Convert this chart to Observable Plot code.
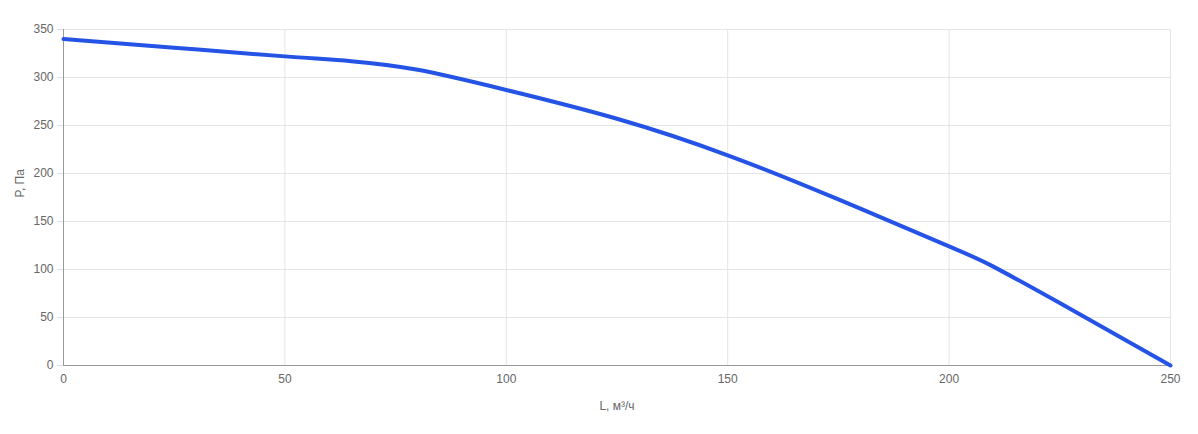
<!DOCTYPE html>
<html>
<head>
<meta charset="utf-8">
<script src="https://cdn.jsdelivr.net/npm/d3@7"></script>
<script src="https://cdn.jsdelivr.net/npm/@observablehq/plot@0.6"></script>
<style>
  html, body { margin: 0; padding: 0; background: #fff; }
  #chart svg { display: block; }
</style>
</head>
<body>
<div id="chart"></div>
<script>
const flow = [0, 25, 50, 65, 80, 100, 125, 150, 175, 200, 210, 225, 240, 250];
const pressure = [340, 331, 322, 317, 308, 287, 257, 219, 173, 124, 103, 65, 26, 0];
const xTicks = [0, 50, 100, 150, 200, 250];
const yTicks = [0, 50, 100, 150, 200, 250, 300, 350];
const xLabel = "L, м³/ч";
const yLabel = "P, Па";

const data = flow.map((x, i) => ({x, y: pressure[i]}));

const chart = Plot.plot({
  width: 1198,
  height: 434,
  marginLeft: 63,
  marginRight: 28,
  marginTop: 29,
  marginBottom: 69,
  style: {fontFamily: "Liberation Sans, Arial, Helvetica, sans-serif", fontSize: "12px", color: "#666", background: "#fff"},
  x: {domain: [0, 250]},
  y: {domain: [0, 350]},
  marks: [
    Plot.gridX(xTicks, {stroke: "#e5e5e5", strokeOpacity: 1}),
    Plot.gridY(yTicks, {stroke: "#e5e5e5", strokeOpacity: 1}),
    Plot.axisY(yTicks, {tickSize: 6, tickPadding: 4, stroke: "#e0e0e0", fill: "#666", label: null}),
    Plot.axisX(xTicks, {tickSize: 0, tickPadding: 9, fill: "#666", label: null}),
    Plot.ruleX([0], {stroke: "#999"}),
    Plot.ruleY([0], {stroke: "#999"}),
    Plot.line(data, {x: "x", y: "y", stroke: "#2453e6", strokeWidth: 4, curve: "natural"}),
    Plot.text([xLabel], {frameAnchor: "bottom", dy: 41, lineAnchor: "middle", fill: "#666", fontSize: 12}),
    Plot.text([yLabel], {frameAnchor: "left", dx: -43, rotate: -90, lineAnchor: "middle", fill: "#666", fontSize: 12})
  ]
});
document.getElementById("chart").appendChild(chart);
</script>
</body>
</html>
